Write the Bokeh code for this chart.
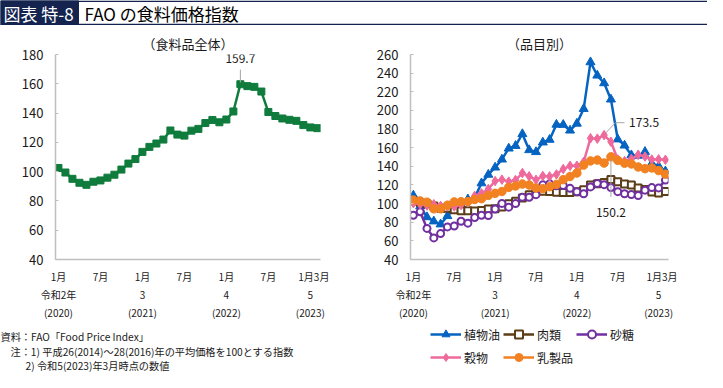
from bokeh.plotting import figure
from bokeh.models import (Range1d, FixedTicker, Label, Legend, LegendItem, BoxAnnotation,
                          LinearAxis)
from bokeh.layouts import column, row
from bokeh.embed import file_html
from bokeh.resources import INLINE

FONT = "Noto Sans CJK JP"
NAVY = "#14244f"
AXIS_GRAY = "#bfbfbf"
TXT = "#1a1a1a"

# ---------------- data (monthly, Jan 2020 .. Feb 2023) ----------------
months = list(range(38))
food_index = [102.5, 99.4, 95.1, 92.4, 91.0, 93.1, 94.0, 95.9, 97.9, 101.4, 105.5, 108.6,
              113.5, 116.9, 119.2, 121.9, 128.1, 125.3, 124.6, 128.0, 129.2, 133.2, 135.3, 133.7,
              135.6, 141.1, 159.7, 158.4, 157.9, 154.7, 140.7, 138.0, 136.3, 135.4, 134.7, 131.8,
              130.2, 129.7]
veg_oil = [108.7, 97.2, 85.5, 81.0, 77.8, 86.7, 94.0, 98.7, 104.6, 106.4, 121.9, 131.1,
           138.8, 147.4, 159.2, 162.0, 174.7, 157.5, 155.4, 165.7, 168.6, 184.8, 184.6, 178.5,
           185.9, 201.7, 251.8, 237.5, 229.3, 211.8, 169.0, 162.4, 152.0, 151.5, 155.6, 143.0,
           140.2, 134.7]
meat = [103.0, 101.1, 99.8, 97.4, 95.0, 94.9, 93.3, 92.4, 92.3, 92.0, 92.6, 94.1,
        94.4, 96.4, 99.8, 102.4, 106.0, 109.6, 112.6, 113.3, 113.0, 112.1, 112.0, 112.0,
        112.8, 114.9, 119.9, 121.4, 122.7, 125.8, 123.5, 121.0, 120.0, 116.6, 115.0, 112.5,
        111.5, 113.0]
sugar = [87.5, 91.2, 73.4, 63.2, 67.8, 75.0, 76.0, 81.1, 79.0, 85.0, 87.5, 87.1,
         94.2, 100.2, 96.2, 100.0, 106.7, 106.7, 109.6, 120.1, 121.2, 119.1, 119.4, 116.4,
         112.7, 110.6, 117.9, 121.5, 120.3, 117.3, 112.8, 110.5, 109.7, 108.6, 114.4, 117.2,
         116.8, 125.2]
cereals = [100.5, 99.3, 97.9, 99.3, 97.5, 96.9, 96.9, 98.5, 101.3, 108.2, 111.0, 115.7,
           124.2, 125.7, 123.6, 125.3, 132.8, 129.3, 125.5, 129.7, 129.2, 131.3, 137.1, 140.5,
           140.6, 144.8, 170.1, 169.7, 173.5, 166.3, 147.3, 145.6, 147.9, 152.3, 150.5, 147.3,
           147.5, 147.0]
dairy = [103.8, 102.9, 101.5, 94.4, 94.4, 98.3, 101.8, 102.0, 102.2, 104.4, 105.3, 108.8,
         111.0, 113.0, 117.4, 118.9, 121.0, 119.9, 116.8, 116.0, 118.1, 120.6, 125.7, 129.1,
         132.8, 141.3, 145.8, 146.7, 143.5, 150.2, 146.4, 143.4, 142.6, 139.3, 137.5, 138.3,
         135.4, 131.6]

x_tick_pos = [0, 6, 12, 18, 24, 30, 36.5]
x_tick_labels = ["1月", "7月", "1月", "7月", "1月", "7月", "1月3月"]
era_pos = [0, 12, 24, 36]
era_labels = ["令和2年", "3", "4", "5"]
year_labels = ["(2020)", "(2021)", "(2022)", "(2023)"]

left_yticks = list(range(40, 181, 20))
right_yticks = list(range(40, 261, 20))

series_names = ["植物油", "肉類", "砂糖", "穀物", "乳製品"]
series_values = [veg_oil, meat, sugar, cereals, dairy]
series_colors = ["#0563c1", "#5b3d17", "#7030a0", "#ef6a9c", "#f28122"]
series_markers = ["triangle", "square", "circle", "diamond", "circle"]
series_sizes = [9, 7, 7, 9.5, 8.5]
series_hollow = [False, True, True, False, False]

peak_total_idx = 26
peak_cereal_idx = 28
peak_dairy_idx = 29

footnotes = ["資料：FAO「Food Price Index」",
             "注：1) 平成26(2014)～28(2016)年の平均価格を100とする指数",
             "2) 令和5(2023)年3月時点の数値"]

TOTAL_W = 707
BANNER_H = 25
CHART_H = 297
BOTTOM_H = 50
LEFT_W = 362
RIGHT_W = TOTAL_W - LEFT_W


def blank_fig(w, h):
    f = figure(width=w, height=h, x_range=Range1d(0, w), y_range=Range1d(0, h),
               output_backend="svg", toolbar_location=None, x_axis_location=None,
               y_axis_location=None, min_border=0, outline_line_color=None, title=None)
    f.grid.visible = False
    return f


# ---------------- banner ----------------
banner = blank_fig(TOTAL_W, BANNER_H)
banner.add_layout(BoxAnnotation(left=0.75, right=TOTAL_W + 5, bottom=1.0, top=24.25,
                                fill_color="white", fill_alpha=1, line_color=NAVY,
                                line_width=1.5, line_alpha=1))
banner.add_layout(BoxAnnotation(left=0, right=78, bottom=0.25, top=25, fill_color=NAVY,
                                fill_alpha=1, line_color=NAVY, line_alpha=1))
banner.add_layout(Label(x=3, y=12.5, text="図表 特-8", text_color="white", text_font=FONT,
                        text_font_size="17px", text_baseline="middle"))
banner.add_layout(Label(x=84, y=12.5, text="FAO の食料価格指数", text_color="black",
                        text_font=FONT, text_font_size="17px", text_baseline="middle"))


def make_chart(width, left_b, right_b, ymin, ymax, yticks, subtitle):
    p = figure(width=width, height=CHART_H, x_range=Range1d(-0.42, 37.45),
               y_range=Range1d(ymin, ymax), output_backend="svg", toolbar_location=None,
               min_border_left=left_b, min_border_right=right_b, min_border_top=29,
               min_border_bottom=58, outline_line_color=None, title=subtitle)
    p.title.align = "center"
    p.title.text_font = FONT
    p.title.text_font_size = "13px"
    p.title.text_font_style = "normal"
    p.title.text_color = TXT
    p.title.standoff = 3
    p.grid.visible = False

    ya = p.yaxis[0]
    ya.ticker = FixedTicker(ticks=yticks)
    ya.axis_line_color = AXIS_GRAY
    ya.axis_line_width = 1.5
    ya.major_tick_line_color = AXIS_GRAY
    ya.major_tick_in = 3
    ya.major_tick_out = 0
    ya.minor_tick_line_color = None
    ya.major_label_text_font = FONT
    ya.major_label_text_font_size = "13px"
    ya.major_label_text_color = TXT
    ya.major_label_standoff = 12

    xa = p.xaxis[0]
    xa.ticker = FixedTicker(ticks=x_tick_pos)
    xa.major_label_overrides = {k: v for k, v in zip(x_tick_pos, x_tick_labels)}
    xa.axis_line_color = AXIS_GRAY
    xa.axis_line_width = 1.5
    xa.major_tick_line_color = None
    xa.major_tick_out = 0
    xa.major_tick_in = 0
    xa.minor_tick_line_color = None
    xa.major_label_text_font = FONT
    xa.major_label_text_font_size = "10px"
    xa.major_label_text_color = TXT
    xa.major_label_standoff = 9

    for labels in (era_labels, year_labels):
        ax = LinearAxis(ticker=FixedTicker(ticks=era_pos),
                        major_label_overrides={k: v for k, v in zip(era_pos, labels)},
                        axis_line_color=None, major_tick_line_color=None,
                        minor_tick_line_color=None, major_tick_in=0, major_tick_out=0,
                        minor_tick_in=0, minor_tick_out=0,
                        major_label_standoff=0, major_label_text_font=FONT,
                        major_label_text_font_size="10px", major_label_text_color=TXT)
        p.add_layout(ax, "below")
    return p


# ---------------- left chart ----------------
left = make_chart(LEFT_W, 55, 42, 40, 180, left_yticks, "（食料品全体）")
GREEN = "#0f7b3c"
left.line(months, food_index, line_color=GREEN, line_width=2.5)
left.scatter(months, food_index, marker="square", size=7, fill_color=GREEN,
             line_color=GREEN)
pk = food_index[peak_total_idx]
left.segment(x0=[peak_total_idx], y0=[pk + 1.2], x1=[peak_total_idx], y1=[pk + 10.0],
             line_color="#a6a6a6", line_width=1)
left.add_layout(Label(x=peak_total_idx, y=pk, text=f"{pk:.1f}", y_offset=26,
                      text_font=FONT, text_font_size="12px", text_color=TXT,
                      text_align="center", text_baseline="middle"))

# ---------------- right chart ----------------
right = make_chart(RIGHT_W, 48, 39, 40, 260, right_yticks, "（品目別）")
for name, vals, col, mk, sz, hol in zip(series_names, series_values, series_colors,
                                         series_markers, series_sizes, series_hollow):
    right.line(months, vals, line_color=col, line_width=2.5)
    right.scatter(months, vals, marker=mk, size=sz, fill_color=("white" if hol else col),
                  line_color=col, line_width=(2 if hol else 1))

cv = cereals[peak_cereal_idx]
right.line(x=[peak_cereal_idx + 0.2, peak_cereal_idx + 1.66, peak_cereal_idx + 2.98],
           y=[cv + 2.0, cv + 13.3, cv + 13.3], line_color="#a6a6a6", line_width=1)
right.add_layout(Label(x=peak_cereal_idx, y=cv, text=f"{cv:.1f}", x_offset=25, y_offset=12.5,
                       text_font=FONT, text_font_size="12px", text_color=TXT,
                       text_align="left", text_baseline="middle"))
dv = dairy[peak_dairy_idx]
right.segment(x0=[peak_dairy_idx], y0=[dv - 3.5], x1=[peak_dairy_idx], y1=[dv - 43.0],
              line_color="#a6a6a6", line_width=1)
right.add_layout(Label(x=peak_dairy_idx, y=dv, text=f"{dv:.1f}", y_offset=-56,
                       text_font=FONT, text_font_size="12px", text_color=TXT,
                       text_align="center", text_baseline="middle"))

# ---------------- footnotes ----------------
foot = blank_fig(LEFT_W, BOTTOM_H)
for t, fx, fy in zip(footnotes, [0, 10, 25], [36, 21, 7]):
    foot.add_layout(Label(x=fx, y=fy, text=t, text_font=FONT, text_font_size="10.2px",
                          text_color=TXT, text_baseline="middle"))

# ---------------- legend (proxy renderers carry only the style, no data) ----------------
legfig = blank_fig(RIGHT_W, BOTTOM_H)
NAN = float("nan")
items = []
for name, col, mk, sz, hol in zip(series_names, series_colors, series_markers,
                                  series_sizes, series_hollow):
    lr = legfig.line(x=[NAN], y=[NAN], line_color=col, line_width=2.5)
    sr = legfig.scatter(x=[NAN], y=[NAN], marker=mk, size=sz,
                        fill_color=("white" if hol else col),
                        line_color=col, line_width=(2 if hol else 1))
    items.append(LegendItem(label=name, renderers=[lr, sr]))
legend = Legend(items=items, location=(68, 5), orientation="horizontal", ncols=3,
                glyph_width=31, glyph_height=20, label_height=20, label_standoff=3,
                spacing=3, padding=0, margin=0, border_line_color=None,
                background_fill_alpha=0, label_text_font=FONT,
                label_text_font_size="12px", label_text_color=TXT)
legfig.add_layout(legend, "center")

layout = column(banner, row(left, right, spacing=0), row(foot, legfig, spacing=0),
                spacing=0)
open("out.html", "w").write(file_html(layout, INLINE))
